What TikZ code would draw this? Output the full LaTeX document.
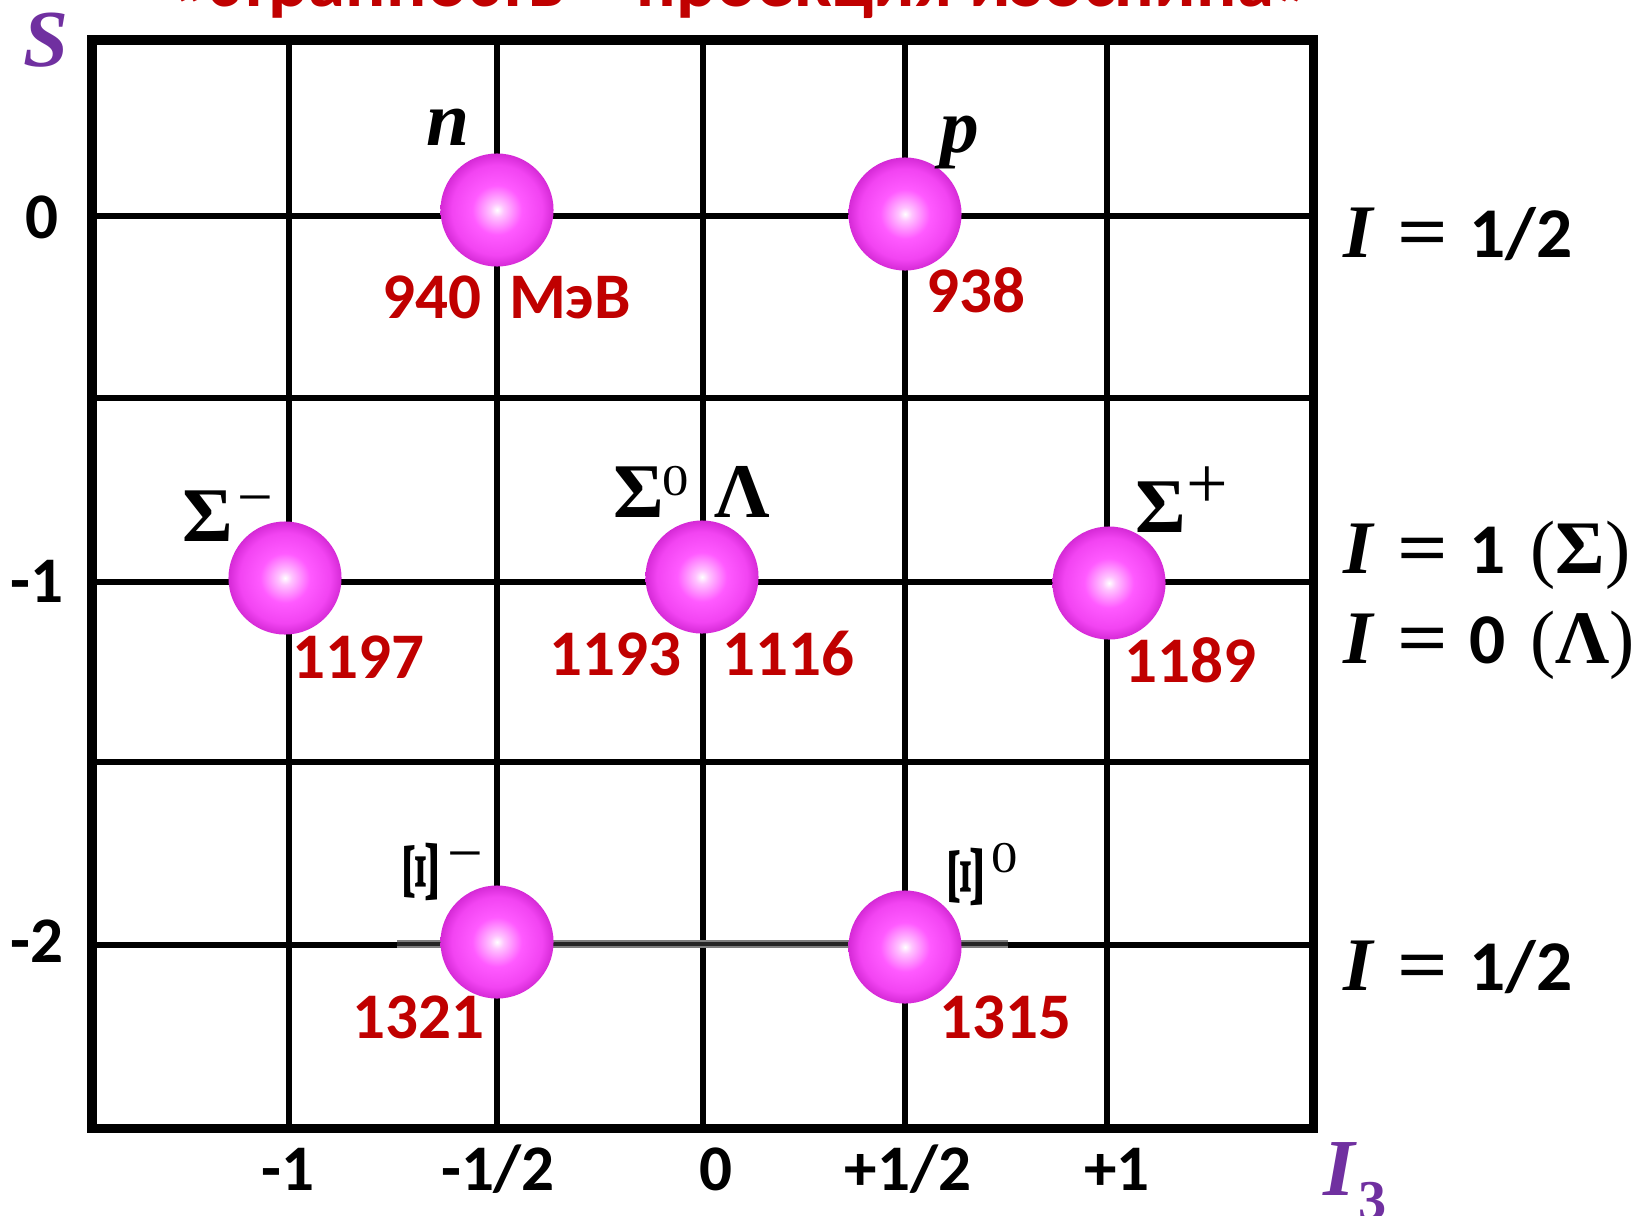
\documentclass[tikz,border=0pt]{standalone}
\usepackage{fontspec}
\setmainfont{Carlito}
\newfontfamily\srf{Liberation Serif}
\definecolor{numred}{HTML}{C00000}
\definecolor{axpurple}{HTML}{7030A0}
\definecolor{ballA}{HTML}{FFC4FF}
\definecolor{ballB}{HTML}{FF5AFF}
\definecolor{ballC}{HTML}{F244F2}
\definecolor{ballD}{HTML}{D52AD6}
\pgfdeclareradialshading{magball}{\pgfpoint{0bp}{0bp}}{color(0bp)=(white); color(3bp)=(ballA); color(11bp)=(ballB); color(20bp)=(ballC); color(25bp)=(ballD); color(50bp)=(ballD)}
\newcommand{\Ieq}[1]{{\srf\bfseries\itshape I}\hspace{7pt}{\srf\bfseries\scalebox{1.18}[1]{=}}\hspace{6pt}#1}
\tikzset{
  gridln/.style={line width=0.06cm},
  framel/.style={line width=0.09cm},
  ballnode/.style={circle, minimum size=1.13cm, inner sep=0pt, shading=magball},
  mass/.style={text=numred, font=\fontsize{18.5}{20}\selectfont\bfseries, inner sep=0pt, anchor=base},
  axlab/.style={font=\fontsize{18.5}{20}\selectfont\bfseries, inner sep=0pt, anchor=base},
  pname/.style={font=\fontsize{22}{24}\selectfont\srf\bfseries, inner sep=0pt, anchor=base},
  supminus/.style={font=\fontsize{18}{19}\selectfont\srf, inner sep=0pt, anchor=base},
  supplus/.style={font=\fontsize{21}{22}\selectfont\srf, inner sep=0pt, anchor=center},
  supdig/.style={font=\fontsize{12.5}{13}\selectfont\srf, inner sep=0pt, anchor=center},
  rlab/.style={font=\fontsize{21.5}{23}\selectfont, inner sep=0pt, anchor=base west},
  axname/.style={text=axpurple, font=\fontsize{23}{25}\selectfont\srf\bfseries\itshape, inner sep=0pt, anchor=base},
  ttl/.style={text=numred, font=\fontsize{21.3}{23}\selectfont\bfseries, inner sep=0pt, anchor=base},
}
\begin{document}
\begin{tikzpicture}[x=0.01cm,y=-0.01cm]
\useasboundingbox (0,0) rectangle (1643,1215);
% title (cut off at the top, as in the reference)
\node[ttl] (title) at (741,6) {«странность – проекция изоспина»};
% grid
\foreach \xx in {289,497,703,905,1107} \draw[gridln] (\xx,40) -- (\xx,1128);
\foreach \yy in {216,398,582,762,945} \draw[gridln] (92,\yy) -- (1313,\yy);
\draw[line width=0.08cm, black!50] (397,944) -- (1008,944);
\draw[line width=0.035cm, black!85] (397,944) -- (1008,944);
\draw[framel] (92,40) rectangle (1313,1128);
% axis names
\node[axname] (S) at (46,66) {S};
\node[axname, anchor=base west] (I3) at (1323,1195) {I};
\node[font=\fontsize{16}{17}\selectfont\srf\bfseries, text=axpurple, inner sep=0pt, anchor=base west] (I3s) at (1358,1219) {3};
% axis tick labels
\node[axlab] (s0) at (42,238) {0};
\node[axlab] (s1) at (37,602) {-1};
\node[axlab] (s2) at (37,962) {-2};
\node[axlab] (i1) at (288,1190) {-1};
\node[axlab] (i2) at (498,1190) {-1/2};
\node[axlab] (i3) at (716,1190) {0};
\node[axlab] (i4) at (908,1190) {+1/2};
\node[axlab] (i5) at (1117,1190) {+1};
% balls
\node[ballnode] (nb) at (497,210) {};
\node[ballnode] (pb) at (905,214) {};
\node[ballnode] (smb) at (285,578) {};
\node[ballnode] (s0b) at (702,577) {};
\node[ballnode] (spb) at (1109,583) {};
\node[ballnode] (xmb) at (497,942) {};
\node[ballnode] (x0b) at (905,947) {};
% particle names
\node[pname, font=\fontsize{22}{24}\selectfont\srf\bfseries\itshape] (nl) at (448,145) {n};
\node[pname, font=\fontsize{22}{24}\selectfont\srf\bfseries\itshape] (pl) at (960,152) {p};
\node[pname] (sml) at (208,541) {Σ};
\node[supminus] (smm) at (255,518) {−};
\node[pname] (s0l) at (639,517) {Σ};
\node[supdig] (s0s) at (676,481) {\scalebox{1.2}[1]{0}};
\node[pname] (lal) at (742,517) {Λ};
\node[pname] (spl) at (1161,532) {Σ};
\node[supplus] (spp) at (1207,488) {+};
\node[pname, anchor=center, rotate=90] (xml) at (421,872) {\scalebox{1.28}[0.65]{Ξ}};
\node[supminus] (xmm) at (465,874) {−};
\node[pname, anchor=center, rotate=90] (x0l) at (966,877) {\scalebox{1.28}[0.65]{Ξ}};
\node[supdig] (x0s) at (1005,858) {\scalebox{1.2}[1]{0}};
% masses
\node[mass] (m940) at (432,318) {940};
\node[mass] (mev) at (570,318) {МэВ};
\node[mass] (m938) at (976,312) {938};
\node[mass] (m1197) at (358,678) {1197};
\node[mass] (m1193) at (615,675) {1193};
\node[mass] (m1116) at (788,675) {1116};
\node[mass] (m1189) at (1190,682) {1189};
\node[mass] (m1321) at (418,1038) {1321};
\node[mass] (m1315) at (1005,1038) {1315};
% isospin labels
\node[rlab] (r1) at (1343,257) {\Ieq{{\fontsize{20.3}{22}\selectfont\bfseries 1/2}}};
\node[rlab] (r2) at (1343,573) {\Ieq{{\fontsize{20.3}{22}\selectfont\bfseries 1}\hspace{7pt}{\srf (\textbf{Σ})}}};
\node[rlab] (r3) at (1343,663) {\Ieq{{\fontsize{20.3}{22}\selectfont\bfseries 0}\hspace{7pt}{\srf (\textbf{Λ})}}};
\node[rlab] (r4) at (1343,990) {\Ieq{{\fontsize{20.3}{22}\selectfont\bfseries 1/2}}};
\end{tikzpicture}
\end{document}
